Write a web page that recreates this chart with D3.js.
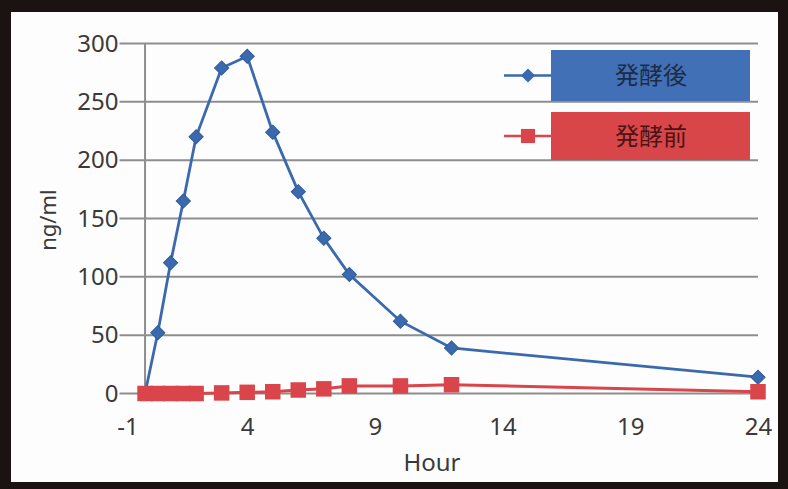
<!DOCTYPE html>
<html><head><meta charset="utf-8">
<script src="https://cdn.jsdelivr.net/npm/d3@7"></script>
<style>html,body{margin:0;padding:0;background:#1b1311;}svg{display:block;}</style>
</head><body>
<svg id="c" width="788" height="489"></svg>
<script>
const hours = [0, 0.5, 1, 1.5, 2, 3, 4, 5, 6, 7, 8, 10, 12, 24];
const afterFerm = [0, 52, 112, 165, 220, 279, 289, 224, 173, 133, 102, 62, 39, 14];
const beforeFerm = [0, 0, 0, 0, 0, 0.5, 1, 1.5, 3, 4, 6.5, 6.5, 7.5, 1.5];
const seriesNames = ["発酵後", "発酵前"];
const xTicks = [-1, 4, 9, 14, 19, 24];
const yTicks = [0, 50, 100, 150, 200, 250, 300];

const svg = d3.select("#c");
const font = "'Noto Sans', 'Noto Sans CJK JP', sans-serif";
const blue = "#3a69ae", red = "#d9454a";

svg.append("rect").attr("width", 788).attr("height", 489).attr("fill", "#1b1311");
svg.append("rect").attr("x", 11).attr("y", 12).attr("width", 767).attr("height", 470).attr("fill", "#fdfdfd");

const x = d3.scaleLinear().domain([-1, 24]).range([119.5, 758]);
const y = d3.scaleLinear().domain([0, 300]).range([393.5, 43.5]);

// gridlines
svg.append("g").selectAll("line").data(yTicks).join("line")
  .attr("x1", x(-1)).attr("x2", x(24))
  .attr("y1", d => y(d)).attr("y2", d => y(d))
  .attr("stroke", "#8e8e8e").attr("stroke-width", 2);
// vertical axis at x=0
svg.append("line").attr("x1", x(0)).attr("x2", x(0)).attr("y1", y(300)).attr("y2", y(0))
  .attr("stroke", "#8e8e8e").attr("stroke-width", 2);

// y tick labels
const yAxis = d3.axisLeft(y).tickValues(yTicks).tickSize(0).tickPadding(0);
const gy = svg.append("g").attr("transform", `translate(${x(-1) - 1},0)`).call(yAxis);
gy.select(".domain").remove();
gy.selectAll("text").attr("font-family", font).attr("font-size", 24).attr("fill", "#3a3a3a");

// x tick labels
const xAxis = d3.axisBottom(x).tickValues(xTicks).tickSize(0).tickPadding(0).tickFormat(d => String(d));
const gx = svg.append("g").attr("transform", `translate(0,${y(0) + 24})`).call(xAxis);
gx.select(".domain").remove();
gx.selectAll("text").attr("font-family", font).attr("font-size", 24).attr("fill", "#3a3a3a");
gx.selectAll(".tick").filter(d => d === -1).select("text").attr("dx", 8);

// axis titles
svg.append("text").attr("x", 432).attr("y", 471).attr("text-anchor", "middle")
  .attr("font-family", font).attr("font-size", 24).attr("fill", "#3a3a3a").text("Hour");
svg.append("text").attr("transform", "translate(56,220) rotate(-90)").attr("text-anchor", "middle")
  .attr("font-family", font).attr("font-size", 22).attr("fill", "#3a3a3a").text("ng/ml");

const line = d3.line().x(d => x(d[0])).y(d => y(d[1]));
const blueData = hours.map((h, i) => [h, afterFerm[i]]);
const redData = hours.map((h, i) => [h, beforeFerm[i]]);

const diamond = d3.symbol().type(d3.symbolSquare).size(100);
const square = d3.symbol().type(d3.symbolSquare).size(240);

svg.append("path").datum(blueData).attr("d", line).attr("fill", "none")
  .attr("stroke", blue).attr("stroke-width", 2.8);
svg.append("g").selectAll("path").data(blueData).join("path")
  .attr("d", diamond).attr("transform", d => `translate(${x(d[0])},${y(d[1])}) rotate(45)`)
  .attr("fill", blue).attr("stroke", "#2f5c9c").attr("stroke-width", 1);

svg.append("path").datum(redData).attr("d", line).attr("fill", "none")
  .attr("stroke", red).attr("stroke-width", 3);
svg.append("g").selectAll("path").data(redData).join("path")
  .attr("d", square).attr("transform", d => `translate(${x(d[0])},${y(d[1])})`)
  .attr("fill", red);

// legend
const legend = svg.append("g");
const lg = [
  {name: seriesNames[0], color: blue, box: "#4170b7", text: "#1d2b45", yTop: 50, yBot: 101, sym: diamond, rot: 45},
  {name: seriesNames[1], color: red, box: "#d9464a", text: "#4a1414", yTop: 112, yBot: 160, sym: d3.symbol().type(d3.symbolSquare).size(200), rot: 0}
];
lg.forEach(d => {
  const cy = (d.yTop + d.yBot) / 2;
  legend.append("rect").attr("x", 551).attr("y", d.yTop).attr("width", 199).attr("height", d.yBot - d.yTop).attr("fill", d.box);
  legend.append("line").attr("x1", 504).attr("x2", 551).attr("y1", cy).attr("y2", cy)
    .attr("stroke", d.color).attr("stroke-width", 2.5);
  legend.append("path").attr("d", d.sym).attr("transform", `translate(528,${cy}) rotate(${d.rot})`).attr("fill", d.color);
  legend.append("text").attr("x", 651).attr("y", cy).attr("dy", "0.36em").attr("text-anchor", "middle")
    .attr("font-family", "'Noto Sans CJK JP', sans-serif").attr("font-size", 24).attr("fill", d.text).text(d.name);
});
</script>
</body></html>
